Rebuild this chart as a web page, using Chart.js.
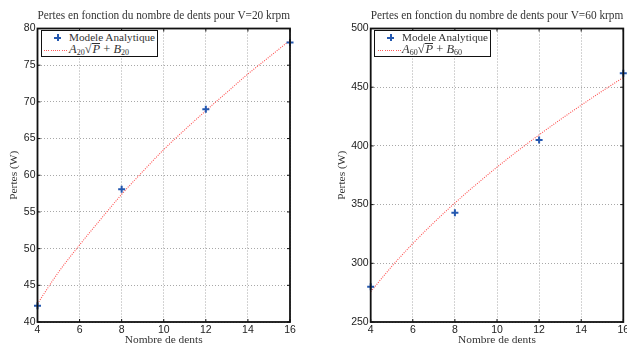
<!DOCTYPE html>
<html>
<head>
<meta charset="utf-8">
<script src="https://cdn.jsdelivr.net/npm/chart.js@4/dist/chart.umd.min.js"></script>
<style>
  html, body { margin: 0; padding: 0; background: #fff; }
  body { width: 627px; height: 347px; overflow: hidden; position: relative; }
  canvas { position: absolute; top: 0; }
  .legend {
    position: absolute; top: 30px; height: 26.5px; width: 117px;
    border: 1px solid #111; background: #fff; box-sizing: border-box;
    font-family: "Liberation Serif", serif; font-size: 11.2px; color: #333;
  }
  .legend .txt { position: absolute; left: 27px; line-height: 13px; white-space: nowrap; }
  .legend .math { font-size: 12.5px; }
  .legend .cross-h { position: absolute; width: 7px; height: 2px; background: #2458b0; }
  .legend .cross-v { position: absolute; width: 2px; height: 7px; background: #2458b0; }
  .legend .dots {
    position: absolute; height: 1px; width: 23px;
    background: repeating-linear-gradient(to right, #ff5a5a 0 1px, transparent 1px 2.2px);
  }
  .legend sub { font-size: 8px; vertical-align: -2px; line-height: 0; }
  .legend .ov { border-top: 1px solid #333; line-height: 11px; display: inline-block; padding-left: 1px; }
</style>
</head>
<body>
<canvas id="c20" width="328" height="347" style="left:0px"></canvas>
<canvas id="c60" width="340" height="347" style="left:327px"></canvas>

<div class="legend" style="left:41px">
  <div class="cross-h" style="left:12px;top:5.5px"></div>
  <div class="cross-v" style="left:14.5px;top:3px"></div>
  <div class="txt" style="top:-0.5px">Modele Analytique</div>
  <div class="dots" style="left:2px;top:18.5px"></div>
  <div class="txt math" style="top:11.5px"><i>A</i><sub>20</sub>&radic;<span class="ov"><i>P</i></span> + <i>B</i><sub>20</sub></div>
</div>
<div class="legend" style="left:374px">
  <div class="cross-h" style="left:12px;top:5.5px"></div>
  <div class="cross-v" style="left:14.5px;top:3px"></div>
  <div class="txt" style="top:-0.5px">Modele Analytique</div>
  <div class="dots" style="left:3px;top:18.5px"></div>
  <div class="txt math" style="top:11.5px"><i>A</i><sub>60</sub>&radic;<span class="ov"><i>P</i></span> + <i>B</i><sub>60</sub></div>
</div>

<script>
// measured points (Modele Analytique)
const dents = [4, 8, 12, 16];
const pertes20 = [42.2, 58.1, 69.0, 78.1];
const pertes60 = [280, 343, 405, 462];

// fitted curve A*sqrt(P)+B
const fitDents = [4, 5, 6, 7, 8, 9, 10, 11, 12, 13, 14, 15, 16];
const fit20 = [42.5, 46.8, 50.5, 54.0, 57.4, 60.5, 63.5, 66.2, 68.8, 71.3, 73.8, 76.1, 78.4];
const fit60 = [275.8, 297.3, 316.8, 334.7, 351.4, 367.0, 381.9, 396.0, 409.4, 422.3, 434.7, 446.7, 458.3];

// axis ranges [min, max, step]
const xRange = [4, 16, 2];
const yRange20 = [40, 80, 5];
const yRange60 = [250, 500, 50];

const serif = '"Liberation Serif", serif';
const sans = '"Liberation Sans", Arial, sans-serif';
const blue = '#2458b0';
const red = '#ff5050';

// matlab-like box with inward tick marks
const boxPlugin = {
  id: 'matlabBox',
  afterDraw(chart) {
    const { ctx, chartArea: a, scales } = chart;
    ctx.save();
    ctx.strokeStyle = '#111';
    ctx.lineWidth = 1;
    const tl = 3;
    ctx.beginPath();
    scales.x.ticks.forEach(t => {
      const px = scales.x.getPixelForValue(t.value);
      ctx.moveTo(px, a.bottom); ctx.lineTo(px, a.bottom - tl);
      ctx.moveTo(px, a.top); ctx.lineTo(px, a.top + tl);
    });
    scales.y.ticks.forEach(t => {
      const py = scales.y.getPixelForValue(t.value);
      ctx.moveTo(a.left, py); ctx.lineTo(a.left + tl, py);
      ctx.moveTo(a.right, py); ctx.lineTo(a.right - tl, py);
    });
    ctx.stroke();
    ctx.lineWidth = 1.8;
    ctx.strokeRect(a.left, a.top, a.right - a.left, a.bottom - a.top);
    ctx.restore();
  }
};

function makeChart(id, vitesse, pts, fit, yr, yAxisW, yTitlePad, padRight) {
  return new Chart(document.getElementById(id), {
    type: 'scatter',
    data: {
      datasets: [
        { label: 'Modele Analytique', data: dents.map((d, i) => ({ x: d, y: pts[i] })),
          pointStyle: 'cross', pointRadius: 3.5, pointBorderWidth: 2,
          borderColor: blue, backgroundColor: blue, showLine: false, clip: false },
        { label: 'fit', data: fitDents.map((d, i) => ({ x: d, y: fit[i] })),
          showLine: true, borderColor: red, borderWidth: 1.1, borderDash: [1, 1.3],
          pointRadius: 0, cubicInterpolationMode: 'monotone' }
      ]
    },
    options: {
      responsive: false, animation: false, devicePixelRatio: 1,
      layout: { padding: { left: 0, top: 0, bottom: 0, right: padRight } },
      plugins: {
        legend: { display: false }, tooltip: { enabled: false },
        title: { display: true, fullSize: false,
          text: 'Pertes en fonction du nombre de dents pour V=' + vitesse + ' krpm',
          color: '#333', font: { family: serif, size: 11.6, weight: 'normal' },
          padding: { top: 9, bottom: 5.6 } }
      },
      scales: {
        x: { type: 'linear', min: xRange[0], max: xRange[1],
          ticks: { stepSize: xRange[2], color: '#222', font: { family: sans, size: 10.5 }, padding: 2, maxRotation: 0 },
          grid: { color: '#a8a8a8', drawTicks: false },
          border: { display: false, dash: [1, 2] },
          title: { display: true, text: 'Nombre de dents', color: '#333',
            font: { family: serif, size: 11.4 }, padding: { top: 0, bottom: 0 } },
          afterFit: s => { s.height = 25; } },
        y: { type: 'linear', min: yr[0], max: yr[1],
          ticks: { stepSize: yr[2], color: '#222', font: { family: sans, size: 10.5 }, padding: 2 },
          grid: { color: '#a8a8a8', drawTicks: false },
          border: { display: false, dash: [1, 2] },
          title: { display: true, text: 'Pertes (W)', color: '#333',
            font: { family: serif, size: 11.4 }, padding: { top: yTitlePad, bottom: 0 } },
          afterFit: s => { s.width = yAxisW; } }
      }
    },
    plugins: [boxPlugin]
  });
}

makeChart('c20', 20, pertes20, fit20, yRange20, 37.5, 7.5, 38);
makeChart('c60', 60, pertes60, fit60, yRange60, 43.7, 8.2, 43.7);
</script>
</body>
</html>
